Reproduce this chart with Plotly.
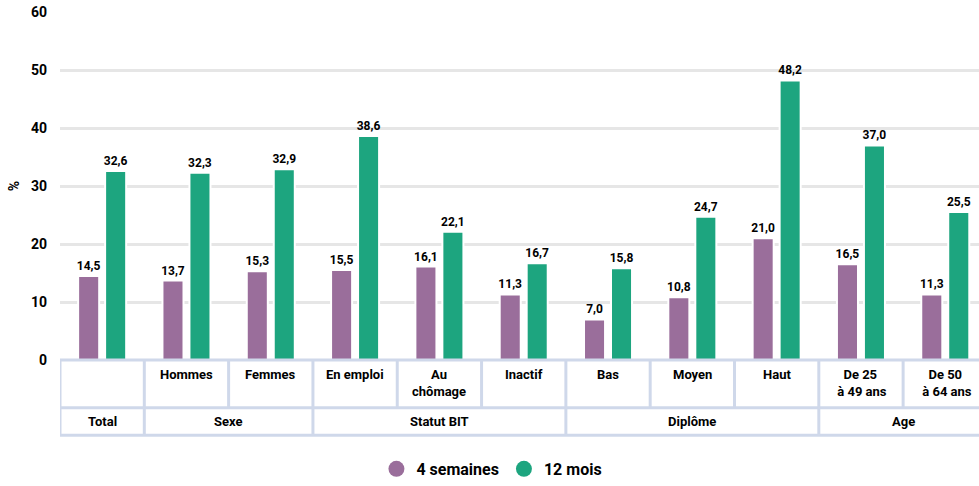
import plotly.graph_objects as go

categories = ["Total", "Hommes", "Femmes", "En emploi", "Au<br>chômage", "Inactif",
              "Bas", "Moyen", "Haut", "De 25<br> à 49 ans", "De 50<br> à 64 ans"]
row1_labels = ["", "Hommes", "Femmes", "En emploi", "Au<br>chômage", "Inactif",
               "Bas", "Moyen", "Haut", "De 25<br> à 49 ans", "De 50<br> à 64 ans"]
groups = ["Total", "Sexe", "Statut BIT", "Diplôme", "Age"]
group_sizes = [1, 2, 3, 3, 2]
series_names = ["4 semaines", "12 mois"]
vals_4s = [14.5, 13.7, 15.3, 15.5, 16.1, 11.3, 7.0, 10.8, 21.0, 16.5, 11.3]
vals_12m = [32.6, 32.3, 32.9, 38.6, 22.1, 16.7, 15.8, 24.7, 48.2, 37.0, 25.5]
yticks = [0, 10, 20, 30, 40, 50, 60]

PURPLE = "#9a6e9b"
GREEN = "#1da57f"
LINE = "#cfd8ea"
FONT = "Roboto, Liberation Sans, sans-serif"

def fmt(v):
    return f"{v:.1f}".replace(".", ",")

fig = go.Figure()
for name, vals, col in [(series_names[0], vals_4s, PURPLE), (series_names[1], vals_12m, GREEN)]:
    fig.add_trace(go.Bar(
        x=categories, y=vals, name=name, marker=dict(color=col, line=dict(color="white", width=2)),
        text=[fmt(v) for v in vals], textposition="outside", cliponaxis=False,
        constraintext="none",
        textfont=dict(family=FONT, size=12, color="black", weight="bold"),
        showlegend=False, hoverinfo="skip"))
    fig.add_trace(go.Scatter(
        x=[None], y=[None], mode="markers", name=name,
        marker=dict(color=col, size=20, symbol="circle"), showlegend=True))

n = len(categories)
shapes = []
y_r1 = -0.137
y_r2 = -0.2165
x_end = n - 0.5 + 0.2
for yy in [0, y_r1, y_r2]:
    shapes.append(dict(type="line", xref="x", yref="paper", x0=-0.5, x1=x_end, y0=yy, y1=yy,
                       line=dict(color=LINE, width=3)))
for k in range(n + 1):
    shapes.append(dict(type="line", xref="x", yref="paper", x0=k - 0.5, x1=k - 0.5, y0=0, y1=y_r1,
                       line=dict(color=LINE, width=3)))
annotations = []
start = 0
bounds = [0]
for g, s in zip(groups, group_sizes):
    annotations.append(dict(x=start + (s - 1) / 2, y=(y_r1 + y_r2) / 2, xref="x", yref="paper",
                            text=g, showarrow=False, yanchor="middle",
                            font=dict(family=FONT, size=13, color="black", weight="bold")))
    start += s
    bounds.append(start)
for b in bounds:
    shapes.append(dict(type="line", xref="x", yref="paper", x0=b - 0.5, x1=b - 0.5, y0=y_r1, y1=y_r2,
                       line=dict(color=LINE, width=3)))
for k, lab in enumerate(row1_labels):
    if lab:
        annotations.append(dict(x=k, y=-0.014, xref="x", yref="paper", text=lab, showarrow=False,
                                yanchor="top", font=dict(family=FONT, size=13, color="black", weight="bold")))

fig.update_layout(
    width=979, height=486,
    margin=dict(l=60, r=0, t=12, b=123),
    paper_bgcolor="white", plot_bgcolor="white",
    barmode="group", bargap=0.36, bargroupgap=0.22,
    shapes=shapes, annotations=annotations,
    font=dict(family=FONT, color="black"),
    legend=dict(orientation="h", x=0.47, xanchor="center", y=-0.313, yanchor="middle",
                font=dict(family=FONT, size=16, color="black", weight="bold"),
                itemsizing="trace", itemwidth=30, tracegroupgap=0),
    xaxis=dict(range=[-0.5, 10.4], showticklabels=False, showgrid=False,
               zeroline=False, showline=False, fixedrange=True, automargin=False),
    yaxis=dict(range=[0, 60], tickvals=yticks, showgrid=True, gridcolor="#e6e6e6", gridwidth=2.5,
               zeroline=False, showline=False, ticklabelstandoff=12, automargin=False,
               ticklabeloverflow="allow", fixedrange=True,
               tickfont=dict(family=FONT, size=14, color="black", weight="bold"),
               title=dict(text="%", font=dict(family=FONT, size=14, color="black", weight="bold"),
                          standoff=8)),
)
fig.write_html("out.html", config={"displayModeBar": False},
               post_script="document.body.style.margin='0';document.body.style.overflow='hidden';")
